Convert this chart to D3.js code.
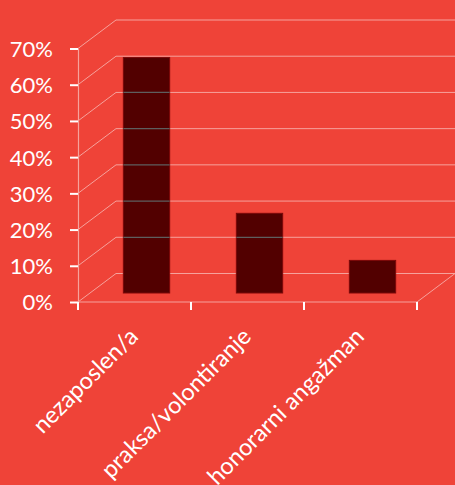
<!DOCTYPE html>
<html>
<head>
<meta charset="utf-8">
<script src="https://cdn.jsdelivr.net/npm/d3@7"></script>
<style>
  html, body { margin: 0; padding: 0; background: #EF4338; overflow: hidden; }
  svg { display: block; }
  text { font-family: Lato, "Open Sans", sans-serif; fill: #ffffff; }
</style>
</head>
<body>
<svg id="chart" width="455" height="485"></svg>
<script>
// ---- data ----
const categories = ["nezaposlen/a", "praksa/volontiranje", "honorarni angažman"];
const values = [0.65, 0.22, 0.09];
const yTicks = [0, 0.1, 0.2, 0.3, 0.4, 0.5, 0.6, 0.7];
const titleText = "(trenutni radni angažman)";

// ---- layout ----
const W = 455, H = 485;
const plotLeft = 78, plotRight = 417, plotBottom = 302, plotTop = 48.5;
const depthX = 38, depthY = -28.5;      // back-wall offset
const barDepth = 0.316;                  // bars placed within the depth

const svg = d3.select("#chart");
svg.append("rect").attr("width", W).attr("height", H).attr("fill", "#EF4338");

const x = d3.scaleBand().domain(categories).range([plotLeft, plotRight]).padding(0);
const y = d3.scaleLinear().domain([0, 0.7]).range([plotBottom, plotTop]);

const gridColor = "#F6A29C";

// title (mostly cut off at the top, as in the reference)
svg.append("text").attr("x", 157).attr("y", -4)
  .attr("text-anchor", "middle").attr("font-size", 22).text(titleText);

// floor
svg.append("path")
  .attr("d", d3.line()([[plotLeft, y(0)], [plotLeft + depthX, y(0) + depthY], [W + 5, y(0) + depthY]]))
  .attr("fill", "none").attr("stroke", gridColor).attr("stroke-width", 1);
svg.append("path")
  .attr("d", d3.line()([[plotRight, y(0)], [plotRight + depthX, y(0) + depthY]]))
  .attr("fill", "none").attr("stroke", gridColor).attr("stroke-width", 1);

// wall gridlines (diagonal + horizontal)
const gridG = svg.append("g");
yTicks.filter(t => t > 0).forEach(t => {
  gridG.append("path")
    .attr("d", d3.line()([[plotLeft, y(t)], [plotLeft + depthX, y(t) + depthY], [W + 5, y(t) + depthY]]))
    .attr("fill", "none").attr("stroke", gridColor).attr("stroke-width", 1);
});

// bars
const bx = d => x(d) + x.bandwidth() * 0.295 + depthX * barDepth;
const bw = x.bandwidth() * 0.41;
const by0 = y(0) + depthY * barDepth;
const barsG = svg.append("g");
categories.forEach((c, i) => {
  const yy = y(values[i]) + depthY * barDepth;
  barsG.append("rect")
    .attr("x", bx(c)).attr("y", yy)
    .attr("width", bw).attr("height", by0 - yy)
    .attr("fill", "#520000").attr("stroke", "#7A0808").attr("stroke-width", 1);
});

// gridlines seen across the bars (grey)
const clip = svg.append("defs").append("clipPath").attr("id", "barclip");
categories.forEach((c, i) => {
  const yy = y(values[i]) + depthY * barDepth;
  clip.append("rect").attr("x", bx(c)).attr("y", yy).attr("width", bw).attr("height", by0 - yy);
});
const overG = svg.append("g").attr("clip-path", "url(#barclip)");
yTicks.filter(t => t > 0).forEach(t => {
  overG.append("line")
    .attr("x1", plotLeft).attr("x2", W).attr("y1", y(t) + depthY).attr("y2", y(t) + depthY)
    .attr("stroke", "#5E5E5E").attr("stroke-width", 1.2);
});

// front floor edge
svg.append("line").attr("x1", plotLeft).attr("x2", plotRight).attr("y1", y(0)).attr("y2", y(0))
  .attr("stroke", gridColor).attr("stroke-width", 1.2);

// y axis
const yAxis = d3.axisLeft(y).tickValues(yTicks).tickFormat(d3.format(".0%")).tickSize(8).tickPadding(17);
const yg = svg.append("g").attr("transform", `translate(${plotLeft},0)`).call(yAxis);
yg.select(".domain").attr("stroke", gridColor).attr("stroke-width", 1.2);
yg.selectAll(".tick line").attr("stroke", "#ffffff").attr("stroke-width", 2);
yg.selectAll(".tick text").attr("font-size", 22).attr("fill", "#ffffff")
  .attr("font-family", "Lato, 'Open Sans', sans-serif").attr("dy", "0.36em");

// x axis ticks at band boundaries
const xb = svg.append("g");
const bounds = categories.map(c => x(c)).concat([x(categories[categories.length - 1]) + x.bandwidth()]);
bounds.forEach(bx0 => {
  xb.append("line").attr("x1", bx0).attr("x2", bx0).attr("y1", y(0)).attr("y2", y(0) + 8)
    .attr("stroke", "#ffffff").attr("stroke-width", 2);
});

// category labels (rotated)
categories.forEach(c => {
  const cx = x(c) + x.bandwidth() / 2 + 5;
  svg.append("text")
    .attr("transform", `translate(${cx},338) rotate(-45)`)
    .attr("text-anchor", "end").attr("font-size", 23.5).text(c);
});
</script>
</body>
</html>
